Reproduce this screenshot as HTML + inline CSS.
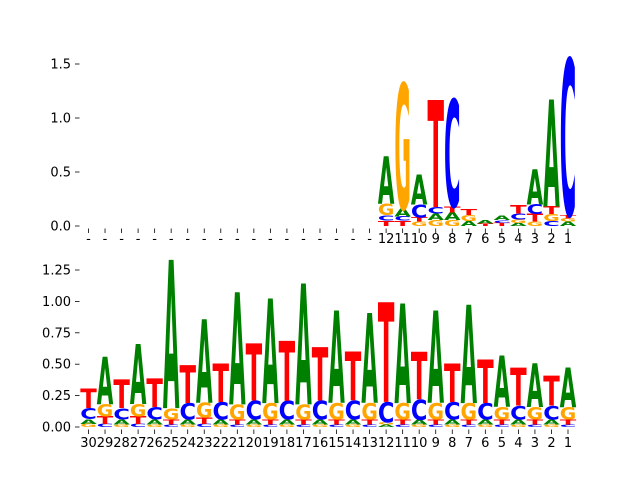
<!DOCTYPE html>
<html><head><meta charset="utf-8"><style>
html,body{margin:0;padding:0;background:#fff;}
svg{display:block;}
text.tick{font-family:"DejaVu Sans","Liberation Sans",sans-serif;font-size:13px;fill:#000;}
</style></head><body>
<svg id="chart" width="640" height="480" viewBox="0 0 640 480" xmlns="http://www.w3.org/2000/svg">
<g id="top"></g>
<g id="bottom"></g>
</svg>
<script>
// positions listed 30 -> 1; each is stack from bottom: [letter, height]
const topLabels = ["-","-","-","-","-","-","-","-","-","-","-","-","-","-","-","-","-","-","12","11","10","9","8","7","6","5","4","3","2","1"];
const topStacks = [[],[],[],[],[],[],[],[],[],[],[],[],[],[],[],[],[],[],
 [["T",0.05],["C",0.05],["G",0.11],["A",0.44]],
 [["T",0.05],["C",0.04],["A",0.07],["G",1.17]],
 [["G",0.04],["T",0.04],["C",0.12],["A",0.28]],
 [["G",0.055],["A",0.06],["C",0.06],["T",1.0]],
 [["G",0.055],["A",0.07],["T",0.055],["C",1.0]],
 [["A",0.045],["G",0.055],["T",0.055]],
 [["T",0.025],["A",0.03]],
 [["T",0.03],["C",0.025],["A",0.04]],
 [["A",0.03],["G",0.03],["C",0.055],["T",0.08]],
 [["G",0.04],["T",0.07],["C",0.09],["A",0.33]],
 [["C",0.045],["G",0.065],["T",0.07],["A",1.0]],
 [["A",0.04],["G",0.03],["T",0.03],["C",1.46]]
];
const topTicks = [0,0.5,1.0,1.5];
const topTickLabels = ["0.0","0.5","1.0","1.5"];

const bottomLabels = ["30","29","28","27","26","25","24","23","22","21","20","19","18","17","16","15","14","13","12","11","10","9","8","7","6","5","4","3","2","1"];
const bottomStacks = [
 [["G",0.025],["A",0.037],["C",0.088],["T",0.154]],
 [["C",0.025],["T",0.06],["G",0.1],["A",0.38]],
 [["G",0.02],["A",0.04],["C",0.09],["T",0.23]],
 [["C",0.025],["T",0.06],["G",0.1],["A",0.48]],
 [["G",0.02],["A",0.04],["C",0.1],["T",0.23]],
 [["C",0.02],["T",0.04],["G",0.09],["A",1.19]],
 [["G",0.02],["A",0.04],["C",0.13],["T",0.3]],
 [["C",0.025],["T",0.05],["G",0.12],["A",0.67]],
 [["G",0.02],["A",0.04],["C",0.14],["T",0.31]],
 [["C",0.02],["T",0.04],["G",0.12],["A",0.9]],
 [["G",0.02],["A",0.04],["C",0.15],["T",0.46]],
 [["C",0.02],["T",0.04],["G",0.13],["A",0.84]],
 [["G",0.02],["A",0.04],["C",0.15],["T",0.48]],
 [["C",0.02],["T",0.04],["G",0.12],["A",0.97]],
 [["G",0.02],["A",0.04],["C",0.15],["T",0.43]],
 [["C",0.02],["T",0.04],["G",0.13],["A",0.74]],
 [["G",0.02],["A",0.04],["C",0.15],["T",0.39]],
 [["C",0.02],["T",0.04],["G",0.13],["A",0.72]],
 [["A",0.02],["G",0.02],["C",0.16],["T",0.8]],
 [["C",0.02],["T",0.04],["G",0.13],["A",0.8]],
 [["G",0.02],["A",0.04],["C",0.16],["T",0.38]],
 [["C",0.02],["T",0.04],["G",0.13],["A",0.74]],
 [["G",0.02],["A",0.04],["C",0.14],["T",0.31]],
 [["C",0.02],["T",0.04],["G",0.13],["A",0.79]],
 [["G",0.02],["A",0.04],["C",0.13],["T",0.35]],
 [["C",0.02],["T",0.04],["G",0.1],["A",0.41]],
 [["G",0.02],["A",0.04],["C",0.11],["T",0.3]],
 [["C",0.02],["T",0.04],["G",0.1],["A",0.35]],
 [["G",0.02],["A",0.04],["C",0.11],["T",0.24]],
 [["C",0.02],["T",0.04],["G",0.1],["A",0.32]]
];
const bottomTicks = [0,0.25,0.5,0.75,1.0,1.25];
const bottomTickLabels = ["0.00","0.25","0.50","0.75","1.00","1.25"];

const colors = {A:"#008000",C:"#0000ff",G:"#ffa500",T:"#ff0000"};
const NS = "http://www.w3.org/2000/svg";
const x0 = 88.5, step = 479.5/29, letterW = 15.2;

function drawPanel(g, stacks, labels, ticks, tickLabels, y0, pxPerUnit, labelY) {
  const xScale = i => x0 + i * step;
  const yScale = v => y0 - v * pxPerUnit;
  ticks.forEach((t, k) => {
    const y = yScale(t);
    const ln = document.createElementNS(NS, "line");
    
    
    ln.setAttribute("x1", 75); ln.setAttribute("x2", 79.5);
    ln.setAttribute("y1", y); ln.setAttribute("y2", y);
    ln.setAttribute("stroke", "#000"); ln.setAttribute("stroke-width", "0.8");
    g.appendChild(ln);
    const tx = document.createElementNS(NS, "text");
    
    
    tx.setAttribute("class", "tick");
    tx.setAttribute("x", 71); tx.setAttribute("y", y + 4.5);
    tx.setAttribute("text-anchor", "end");
    tx.textContent = tickLabels[k];
    g.appendChild(tx);
  });
  labels.forEach((lab, i) => {
    const x = xScale(i);
    const ln = document.createElementNS(NS, "line");
    
    
    ln.setAttribute("x1", x); ln.setAttribute("x2", x);
    ln.setAttribute("y1", y0 + 2.5); ln.setAttribute("y2", y0 + 7);
    ln.setAttribute("stroke", "#000"); ln.setAttribute("stroke-width", "0.8");
    g.appendChild(ln);
    const tx = document.createElementNS(NS, "text");
    
    
    tx.setAttribute("class", "tick");
    tx.setAttribute("x", x); tx.setAttribute("y", labelY);
    tx.setAttribute("text-anchor", "middle");
    tx.textContent = lab;
    g.appendChild(tx);
  });
  stacks.forEach((stack, i) => {
    const cx = xScale(i);
    let base = 0;
    stack.forEach(([L, h]) => {
      const yb = yScale(base), yt = yScale(base + h);
      base += h;
      const hh = yb - yt;
      if (hh <= 0.2) return;
      const t = document.createElementNS(NS, "text");
      
      
      t.setAttribute("x", 0); t.setAttribute("y", 0);
      t.setAttribute("text-anchor", "middle");
      t.setAttribute("font-family", "DejaVu Sans, Liberation Sans, sans-serif");
      t.setAttribute("font-weight", "bold");
      t.setAttribute("font-size", "100");
      t.setAttribute("fill", colors[L]);
      t.textContent = L;
      g.appendChild(t);
      let adv = 75;
      try { adv = t.getComputedTextLength() || 75; } catch (e) {}
      const sx = letterW / (adv * 0.92);
      const sy = hh / 73.5;
      t.setAttribute("transform", "translate(" + cx + "," + yb + ") scale(" + sx + "," + sy + ")");
    });
  });
}
drawPanel(document.getElementById("top"), topStacks, topLabels, topTicks, topTickLabels, 226, 108, 243);
drawPanel(document.getElementById("bottom"), bottomStacks, bottomLabels, bottomTicks, bottomTickLabels, 427, 125.6, 447);
</script>
</body></html>
